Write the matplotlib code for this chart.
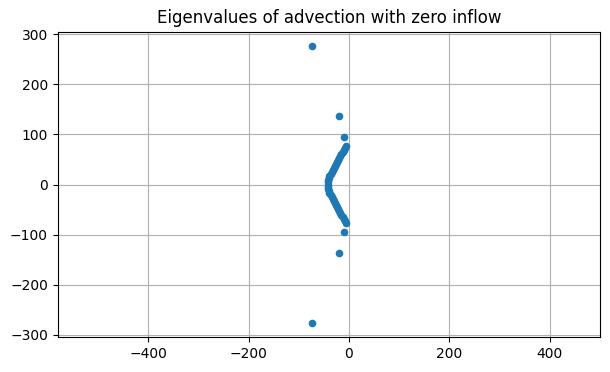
import matplotlib
matplotlib.use('Agg')
import matplotlib.pyplot as plt

# eigenvalues (upper half, then lower half)
re_upper = [-41.5, -41, -40, -39, -36.5, -34.5, -32.5, -30.5, -28.5, -26.5,
            -24, -22, -19.5, -17, -15, -12.5, -10.5, -8.5, -6.5,
            -10, -20, -73]
im_upper = [4, 8, 12, 16, 20, 24, 28, 32, 36, 40,
            44, 48, 52, 56, 60, 64, 68, 72, 76,
            94, 136, 277]
re_mid = [-42]
im_mid = [0]
re_lower = [-41.5, -41, -40, -39, -36.5, -34.5, -32.5, -30.5, -28.5, -26.5,
            -24, -22, -19.5, -17, -15, -12.5, -10.5, -8.5, -6.5,
            -10, -20, -73]
im_lower = [-4, -8, -12, -16, -20, -24, -28, -32, -36, -40,
            -44, -48, -52, -56, -60, -64, -68, -72, -76,
            -94, -136, -277]

re = re_lower[::-1] + re_mid + re_upper
im = im_lower[::-1] + im_mid + im_upper

fig = plt.figure(figsize=(6.1, 3.72), dpi=100)
ax = fig.add_axes([57.7/610, 34.7/372, 542.6/610, 305.6/372])
ax.scatter(re, im, s=20, color='#1f77b4', zorder=3)
ax.axis('equal')
ax.grid(True, color='#b0b0b0', linewidth=0.8)
ax.set_axisbelow(True)
ax.set_title('Eigenvalues of advection with zero inflow')

fig.savefig('out.png', dpi=100)
